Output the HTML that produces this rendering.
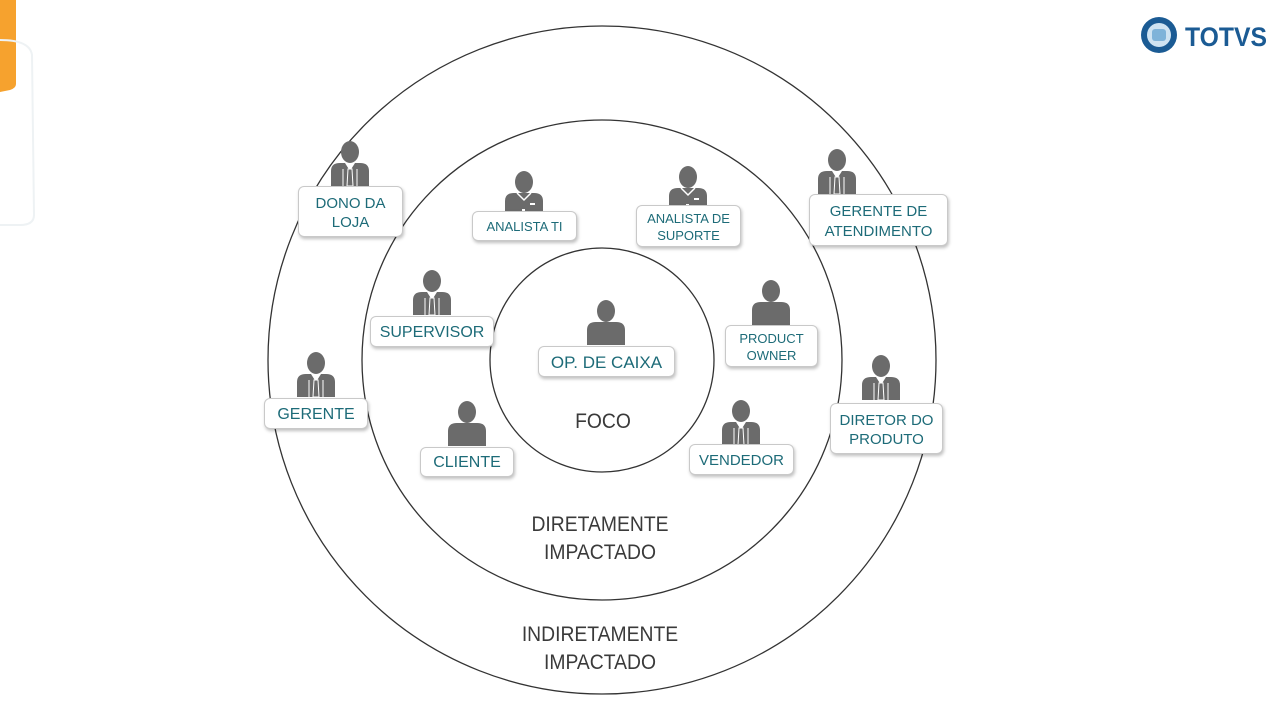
<!DOCTYPE html>
<html><head><meta charset="utf-8"><style>
body{margin:0;width:1288px;height:725px;background:#fff;overflow:hidden;font-family:"Liberation Sans",sans-serif}
svg{position:absolute;left:0;top:0}
.b{position:absolute;background:#fff;border:1px solid #c9c9c9;border-radius:6px;box-shadow:1px 2px 3px rgba(0,0,0,.25);color:#1d6b78;text-align:center;display:flex;align-items:center;justify-content:center;line-height:1.3;box-sizing:border-box;padding-top:3px}
.t{position:absolute;color:#3a3a3a;font-size:21px;text-align:center;transform:scaleX(.92);line-height:28px}
</style></head><body>
<svg width="1288" height="725">
<defs>
<g id="p"><ellipse cx="0" cy="11" rx="9" ry="11" fill="#6b6b6b"/><path d="M-19 45 L-19 30 Q-19 22 -10 22 L10 22 Q19 22 19 30 L19 45 Z" fill="#6b6b6b"/></g>
<g id="pt"><use href="#p"/><path d="M-5 22 L0 30 L5 22 Z" fill="#fff"/><path d="M-2 28 L-3 45 L3 45 L2 28Z" fill="#6b6b6b" stroke="#fff" stroke-width="1"/><line x1="-7" y1="28" x2="-7" y2="45" stroke="#fff" stroke-width="1"/><line x1="7" y1="28" x2="7" y2="45" stroke="#fff" stroke-width="1"/></g>
<g id="pa"><use href="#p"/><path d="M-7 22 L0 29 L7 22" fill="none" stroke="#fff" stroke-width="1.5"/><rect x="6" y="32" width="5" height="2" fill="#fff"/><rect x="-2" y="38" width="3" height="3" fill="#fff"/></g>
</defs>
<path d="M0 0 H16 V84 Q16 88 10 90 L0 92 Z" fill="#f6a22e"/>
<path d="M0 40 Q30 40 32 55 L34 215 Q34 225 20 225 H0" fill="none" stroke="#eef2f4" stroke-width="2"/>
<circle cx="602" cy="360" r="334" fill="none" stroke="#333" stroke-width="1.3"/>
<circle cx="602" cy="360" r="240" fill="none" stroke="#333" stroke-width="1.3"/>
<circle cx="602" cy="360" r="112" fill="none" stroke="#333" stroke-width="1.3"/>
<use href="#pt" x="350" y="141"/>
<use href="#pa" x="524" y="171"/>
<use href="#pa" x="688" y="166"/>
<use href="#pt" x="837" y="149"/>
<use href="#pt" x="432" y="270"/>
<use href="#p" x="606" y="300"/>
<use href="#p" x="771" y="280"/>
<use href="#pt" x="316" y="352"/>
<use href="#pt" x="881" y="355"/>
<use href="#p" x="467" y="401"/>
<use href="#pt" x="741" y="400"/>
<circle cx="1159" cy="35" r="18" fill="#1b5b94"/>
<circle cx="1159" cy="35" r="12" fill="#cfe3f2"/>
<rect x="1152" y="29" width="14" height="12" rx="3" fill="#7fb3d9"/>
<text x="1185" y="46" font-family="Liberation Sans" font-weight="bold" font-size="27" fill="#1b5b94" textLength="82" lengthAdjust="spacingAndGlyphs">TOTVS</text>
</svg>
<div class="b" style="left:298px;top:186px;width:105px;height:51px;font-size:15px">DONO DA<br>LOJA</div>
<div class="b" style="left:472px;top:211px;width:105px;height:30px;font-size:13px">ANALISTA TI</div>
<div class="b" style="left:636px;top:205px;width:105px;height:42px;font-size:13px">ANALISTA DE<br>SUPORTE</div>
<div class="b" style="left:809px;top:194px;width:139px;height:52px;font-size:15px">GERENTE DE<br>ATENDIMENTO</div>
<div class="b" style="left:370px;top:316px;width:124px;height:31px;font-size:16px">SUPERVISOR</div>
<div class="b" style="left:538px;top:346px;width:137px;height:31px;font-size:17px">OP. DE CAIXA</div>
<div class="b" style="left:725px;top:325px;width:93px;height:42px;font-size:13px">PRODUCT<br>OWNER</div>
<div class="b" style="left:264px;top:398px;width:104px;height:31px;font-size:16px">GERENTE</div>
<div class="b" style="left:830px;top:403px;width:113px;height:51px;font-size:15px">DIRETOR DO<br>PRODUTO</div>
<div class="b" style="left:420px;top:447px;width:94px;height:30px;font-size:16px">CLIENTE</div>
<div class="b" style="left:689px;top:444px;width:105px;height:31px;font-size:15px">VENDEDOR</div>
<div class="t" style="left:503px;top:408px;width:200px">FOCO</div>
<div class="t" style="left:480px;top:511px;width:240px">DIRETAMENTE<br>IMPACTADO</div>
<div class="t" style="left:480px;top:621px;width:240px">INDIRETAMENTE<br>IMPACTADO</div>
</body></html>
